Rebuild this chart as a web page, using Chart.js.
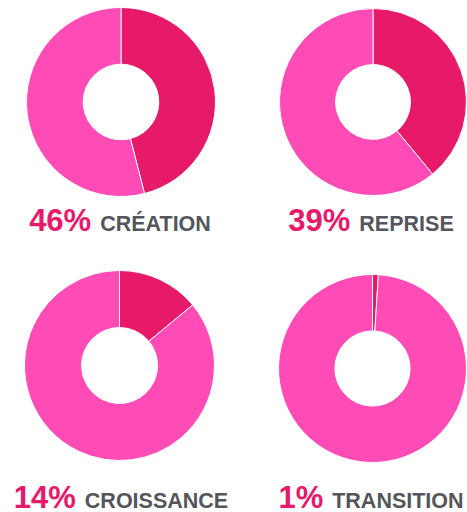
<!DOCTYPE html>
<html>
<head>
<meta charset="utf-8">
<script src="https://cdn.jsdelivr.net/npm/chart.js@4/dist/chart.umd.min.js"></script>
<style>
	html, body { margin: 0; padding: 0; background: #fff; }
	body { width: 467px; height: 512px; position: relative; overflow: hidden; font-family: "Liberation Sans", Arial, sans-serif; }
	.box { position: absolute; }
	.label { position: absolute; width: 240px; text-align: center; font-weight: bold; white-space: nowrap; line-height: 1; }
	.pct { color: #e8196b; font-size: 31px; }
	.word { color: #53565b; font-size: 21.5px; margin-left: 9px; }
</style>
</head>
<body>
<div class="box" id="b0" style="left:26px;top:7px;width:190px;height:190px"><canvas id="c0"></canvas></div>
<div class="box" id="b1" style="left:279px;top:8px;width:188px;height:188px"><canvas id="c1"></canvas></div>
<div class="box" id="b2" style="left:24px;top:270px;width:191px;height:191px"><canvas id="c2"></canvas></div>
<div class="box" id="b3" style="left:278px;top:274px;width:189px;height:189px"><canvas id="c3"></canvas></div>

<div class="label" id="l0" style="left:0px;top:205px"></div>
<div class="label" id="l1" style="left:251px;top:205px"></div>
<div class="label" id="l2" style="left:1px;top:482px"></div>
<div class="label" id="l3" style="left:251px;top:482px"></div>

<script>
const categories = ['CRÉATION', 'REPRISE', 'CROISSANCE', 'TRANSITION'];
const shares = [46, 39, 14, 1];

const darkPink = '#e61a69';
const lightPink = '#ff4bb6';

for (let i = 0; i < categories.length; i++) {
	document.getElementById('l' + i).innerHTML =
		'<span class="pct">' + shares[i] + '%</span><span class="word">' + categories[i] + '</span>';

	new Chart(document.getElementById('c' + i), {
		type: 'doughnut',
		data: {
			labels: [categories[i], 'Autre'],
			datasets: [{
				data: [shares[i], 100 - shares[i]],
				backgroundColor: [darkPink, lightPink],
				borderColor: '#ffffff',
				borderWidth: 1
			}]
		},
		options: {
			cutout: '40%',
			animation: false,
			responsive: true,
			maintainAspectRatio: true,
			plugins: {
				legend: { display: false },
				tooltip: { enabled: false }
			}
		}
	});
}
</script>
</body>
</html>
